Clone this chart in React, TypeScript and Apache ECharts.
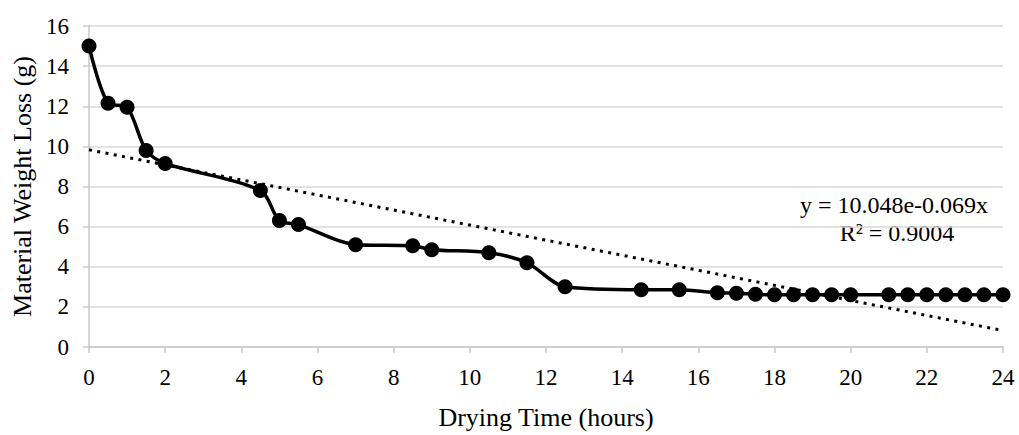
import React, { useEffect, useRef } from "react";
import * as echarts from "echarts";

const hours = [0, 0.5, 1, 1.5, 2, 4.5, 5, 5.5, 7, 8.5, 9, 10.5, 11.5, 12.5, 14.5, 15.5, 16.5, 17, 17.5, 18, 18.5, 19, 19.5, 20, 21, 21.5, 22, 22.5, 23, 23.5, 24];
const weightLoss = [15.0, 12.15, 11.95, 9.8, 9.15, 7.8, 6.3, 6.1, 5.1, 5.05, 4.85, 4.7, 4.2, 3.0, 2.85, 2.85, 2.7, 2.68, 2.63, 2.6, 2.6, 2.6, 2.6, 2.6, 2.6, 2.6, 2.6, 2.6, 2.6, 2.6, 2.6];
const trendX = [0, 24];
const trendY = [9.83, 0.82];
const equationLines = ["y = 10.048e-0.069x", "R² = 0.9004"];
const xTitle = "Drying Time (hours)";
const yTitle = "Material Weight Loss (g)";

const FONT = "'Liberation Serif', 'Times New Roman', serif";

export default function App() {
  const ref = useRef<HTMLDivElement>(null);
  useEffect(() => {
    if (!ref.current) return;
    const chart = echarts.init(ref.current, undefined, { renderer: "svg" });
    chart.setOption({
      animation: false,
      backgroundColor: "#ffffff",
      grid: { left: 89, right: 16, top: 26, bottom: 79, containLabel: false },
      xAxis: {
        type: "value",
        min: 0,
        max: 24,
        interval: 2,
        name: xTitle,
        nameLocation: "middle",
        nameGap: 57,
        nameTextStyle: { fontFamily: FONT, fontSize: 26, color: "#000" },
        axisLine: { show: true, lineStyle: { color: "#c8c8c8", width: 1.5 } },
        axisTick: { show: true, length: 6, lineStyle: { color: "#c8c8c8", width: 1.5 } },
        axisLabel: { fontFamily: FONT, fontSize: 23, color: "#000", margin: 19 },
        splitLine: { show: false },
      },
      yAxis: {
        type: "value",
        min: 0,
        max: 16,
        interval: 2,
        name: yTitle,
        nameLocation: "middle",
        nameGap: 50,
        nameTextStyle: { fontFamily: FONT, fontSize: 26, color: "#000" },
        axisLine: { show: true, lineStyle: { color: "#c8c8c8", width: 1.5 } },
        axisTick: { show: true, length: 6, lineStyle: { color: "#c8c8c8", width: 1.5 } },
        axisLabel: { fontFamily: FONT, fontSize: 23, color: "#000", margin: 20 },
        splitLine: { show: true, lineStyle: { color: "#d9d9d9", width: 1.5 } },
      },
      series: [
        {
          type: "line",
          data: trendX.map((x, i) => [x, trendY[i]]),
          showSymbol: false,
          symbol: "none",
          lineStyle: { color: "#000", width: 3, type: [3, 5.4] },
          z: 2,
        },
        {
          type: "line",
          data: hours.map((x, i) => [x, weightLoss[i]]),
          smooth: 0.3,
          symbol: "circle",
          symbolSize: 15,
          itemStyle: { color: "#000" },
          lineStyle: { color: "#000", width: 3.5 },
          z: 3,
        },
      ],
      graphic: [
        {
          type: "text",
          x: 894,
          y: 205,
          style: { text: equationLines[0], fontFamily: FONT, fontSize: 24, fill: "#000", align: "center", verticalAlign: "middle" },
        },
        {
          type: "text",
          x: 897,
          y: 233,
          style: { text: equationLines[1], fontFamily: FONT, fontSize: 24, fill: "#000", align: "center", verticalAlign: "middle" },
        },
      ],
    });
    return () => chart.dispose();
  }, []);
  return <div ref={ref} style={{ position: "fixed", left: 0, top: 0, width: 1019, height: 435, background: "#fff" }} />;
}
